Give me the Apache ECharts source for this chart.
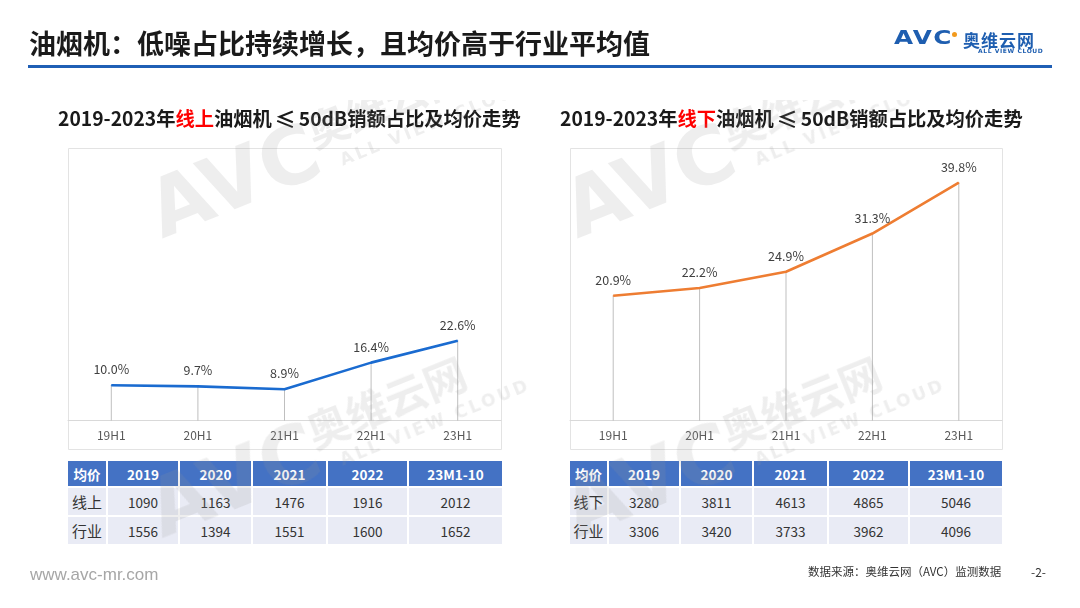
<!DOCTYPE html>
<html>
<head>
<meta charset="utf-8">
<script src="https://cdn.jsdelivr.net/npm/echarts@6.0.0/dist/echarts.min.js"></script>
<style>
  html, body { margin: 0; padding: 0; background: #fff; }
  #page { position: relative; width: 1080px; height: 608px; overflow: hidden; font-family: "Noto Sans CJK SC", sans-serif; }
  #chart { position: absolute; left: 0; top: 0; width: 1080px; height: 608px; }
  .price-table { position: absolute; display: grid; gap: 2px; background: #fff; }
  .price-table div { display: flex; align-items: center; justify-content: center; font-size: 13.5px; color: #333; background: #e9ebf5; }
  .price-table div.head { background: #4472c4; color: #fff; font-weight: bold; }
  .price-table div.name { font-size: 15px; }
  #logo { position: absolute; left: 894px; top: 26px; width: 165px; height: 30px; }
  #logo .avc { position: absolute; left: 0; top: 0; font: 900 19px "DejaVu Sans", sans-serif; color: #1e5eb0; letter-spacing: 1px; transform: scaleX(1.3); transform-origin: 0 0; }
  #logo .dot { position: absolute; left: 58px; top: 6px; width: 5px; height: 5px; border-radius: 50%; background: #f29a1d; }
  #logo .cn { position: absolute; left: 69px; top: 1px; font: bold 17px "Noto Sans CJK SC", sans-serif; color: #1e5eb0; letter-spacing: 1px; }
  #logo .en { position: absolute; left: 84px; top: 21px; font: bold 6px "DejaVu Sans", sans-serif; color: #1e5eb0; letter-spacing: 0.6px; }
  #marks { position: absolute; left: 0; top: 100px; width: 1080px; height: 447px; overflow: hidden; pointer-events: none; }
  .mark { position: absolute; transform: rotate(-22deg); transform-origin: 0 0; color: rgba(150, 150, 150, 0.16); }
  .mark .avc { position: absolute; left: 0; top: 0; font: 900 80px "DejaVu Sans", sans-serif; line-height: 90px; white-space: nowrap; }
  .mark .cn { position: absolute; left: 175px; top: 6px; font: bold 42px "Noto Sans CJK SC", sans-serif; line-height: 44px; white-space: nowrap; }
  .mark .en { position: absolute; left: 195px; top: 56px; font: bold 17px "DejaVu Sans", sans-serif; letter-spacing: 3px; white-space: nowrap; }
</style>
</head>
<body>
<div id="page">
  <div id="chart"></div>
  <div id="logo"><span class="avc">AVC</span><span class="dot"></span><span class="cn">奥维云网</span><span class="en">ALL VIEW CLOUD</span></div>
  <div id="marks"></div>
</div>
<script>
const periods = ["19H1", "20H1", "21H1", "22H1", "23H1"];
const onlineShare = [10.0, 9.7, 8.9, 16.4, 22.6];
const offlineShare = [20.9, 22.2, 24.9, 31.3, 39.8];

const priceYears = ["2019", "2020", "2021", "2022", "23M1-10"];
const onlinePrice = [1090, 1163, 1476, 1916, 2012];
const onlineIndustryPrice = [1556, 1394, 1551, 1600, 1652];
const offlinePrice = [3280, 3811, 4613, 4865, 5046];
const offlineIndustryPrice = [3306, 3420, 3733, 3962, 4096];

const FONT = '"Noto Sans CJK SC", sans-serif';

function shareSeries(index, values, color) {
  return [
    {
      type: "bar",
      xAxisIndex: index,
      yAxisIndex: index,
      data: values,
      barWidth: 1,
      itemStyle: { color: "#bfbfbf" },
      silent: true,
      z: 1,
    },
    {
      type: "line",
      xAxisIndex: index,
      yAxisIndex: index,
      data: values,
      symbol: "circle",
      symbolSize: 1,
      itemStyle: { color: color },
      lineStyle: { color: color, width: 2.6 },
      label: {
        show: true,
        position: "top",
        distance: 9,
        color: "#404040",
        fontSize: 12.5,
        fontFamily: FONT,
        formatter: (params) => Number(params.value).toFixed(1) + "%",
      },
      z: 3,
    },
  ];
}

function categoryAxis(index) {
  return {
    type: "category",
    gridIndex: index,
    data: periods,
    boundaryGap: true,
    axisLine: { lineStyle: { color: "#d9d9d9", width: 1 } },
    axisTick: { show: false },
    axisLabel: { color: "#595959", fontSize: 12, fontFamily: FONT, margin: 9 },
  };
}

function valueAxis(index, max) {
  return { type: "value", gridIndex: index, min: 0, max: max, show: false };
}

function subtitle(left, channel) {
  const base = { fontSize: 19.3, fontWeight: "bold", color: "#1a1a1a", fontFamily: FONT, lineHeight: 22 };
  return {
    text: "{a|2019-2023年}{r|" + channel + "}{a|油烟机}{le|≤}{a|50dB销额占比及均价走势}",
    left: left,
    top: 108,
    padding: 0,
    textStyle: {
      rich: {
        a: base,
        r: { ...base, color: "#ff0000" },
        le: { ...base, fontSize: 21, padding: [0, 3, 0, 3] },
      },
    },
  };
}

const chart = echarts.init(document.getElementById("chart"));
chart.setOption({
  animation: false,
  title: [
    {
      text: "油烟机：低噪占比持续增长，且均价高于行业平均值",
      left: 29,
      top: 30,
      padding: 0,
      textStyle: { fontSize: 27, fontWeight: "bold", color: "#1a1a1a", fontFamily: FONT },
    },
    subtitle(58, "线上"),
    subtitle(560, "线下"),
    {
      text: "www.avc-mr.com",
      left: 30,
      top: 567,
      padding: 0,
      textStyle: { fontSize: 17, fontWeight: "normal", color: "#a6a6a6", fontFamily: '"Liberation Sans", Arial, sans-serif' },
    },
    {
      text: "数据来源：奥维云网（AVC）监测数据",
      left: 808,
      top: 566,
      padding: 0,
      textStyle: { fontSize: 11.5, fontWeight: "normal", color: "#333", fontFamily: FONT },
    },
    {
      text: "-2-",
      left: 1031,
      top: 566,
      padding: 0,
      textStyle: { fontSize: 12, fontWeight: "normal", color: "#333", fontFamily: FONT },
    },
  ],
  graphic: [
    { type: "line", shape: { x1: 28, y1: 66.5, x2: 1052, y2: 66.5 }, style: { stroke: "#1f5fb5", lineWidth: 3 } },
    { type: "rect", shape: { x: 68.5, y: 148.5, width: 433, height: 301 }, style: { fill: "none", stroke: "#e3e3e3", lineWidth: 1 } },
    { type: "rect", shape: { x: 570.5, y: 148.5, width: 432, height: 301 }, style: { fill: "none", stroke: "#e3e3e3", lineWidth: 1 } },
  ],
  grid: [
    { left: 68, top: 148, width: 433, bottom: 187.3 },
    { left: 570, top: 148, width: 432, bottom: 187.3 },
  ],
  xAxis: [categoryAxis(0), categoryAxis(1)],
  yAxis: [valueAxis(0, 77), valueAxis(1, 45.6)],
  series: [
    ...shareSeries(0, onlineShare, "#1a6bd0"),
    ...shareSeries(1, offlineShare, "#ee7d32"),
  ],
});

function buildTable(left, columns, channel, channelPrice, industryPrice) {
  const table = document.createElement("div");
  table.className = "price-table";
  table.style.left = left + "px";
  table.style.top = "461px";
  table.style.gridTemplateColumns = columns.map((w) => w + "px").join(" ");
  table.style.gridTemplateRows = "25px 27px 27px";
  const rows = [
    ["均价", ...priceYears],
    [channel, ...channelPrice],
    ["行业", ...industryPrice],
  ];
  rows.forEach((row, r) => {
    row.forEach((value, c) => {
      const cell = document.createElement("div");
      cell.textContent = value;
      if (r === 0) cell.className = "head";
      else if (c === 0) cell.className = "name";
      table.appendChild(cell);
    });
  });
  document.getElementById("page").insertBefore(table, document.getElementById("marks"));
}

buildTable(68, [38, 70, 71, 73, 79, 93], "线上", onlinePrice, onlineIndustryPrice);
buildTable(570, [37, 70, 71, 73, 79, 92], "线下", offlinePrice, offlineIndustryPrice);

// faint "AVC 奥维云网" watermark tiles laid over both panels
const markOrigins = [[135, 72], [135, 372], [550, 72], [550, 372]];
const marks = document.getElementById("marks");
markOrigins.forEach(([x, y]) => {
  const tile = document.createElement("div");
  tile.className = "mark";
  tile.style.left = x + "px";
  tile.style.top = y + "px";
  tile.innerHTML = '<span class="avc">AVC</span><span class="cn">奥维云网</span><span class="en">ALL VIEW CLOUD</span>';
  marks.appendChild(tile);
});
</script>
</body>
</html>
